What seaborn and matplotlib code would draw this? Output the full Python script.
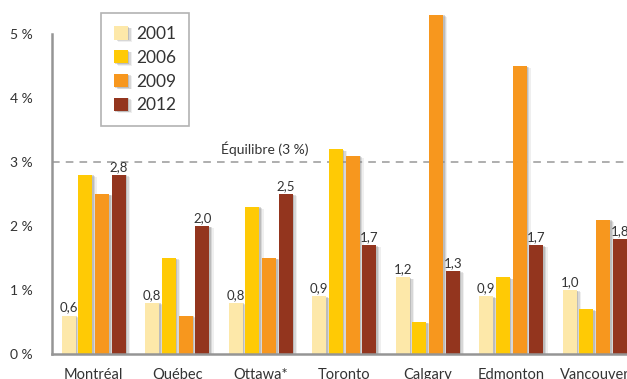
import matplotlib
matplotlib.use("Agg")
import matplotlib.pyplot as plt
import matplotlib.patheffects as pe
from matplotlib.ticker import FixedLocator
import pandas as pd
import seaborn as sns

# Vacancy rates (%) by metropolitan area and survey year
cities = ["Montréal", "Québec", "Ottawa*", "Toronto", "Calgary", "Edmonton", "Vancouver"]
years = ["2001", "2006", "2009", "2012"]
rate_2001 = [0.6, 0.8, 0.8, 0.9, 1.2, 0.9, 1.0]
rate_2006 = [2.8, 1.5, 2.3, 3.2, 0.5, 1.2, 0.7]
rate_2009 = [2.5, 0.6, 1.5, 3.1, 5.3, 4.5, 2.1]
rate_2012 = [2.8, 2.0, 2.5, 1.7, 1.3, 1.7, 1.8]
equilibrium = 3.0
y_ticks = [0, 1, 2, 3, 4, 5]
y_tick_labels = ["0 %", "1 %", "2 %", "3 %", "4 %", "5 %"]

colors = ["#FDE8A9", "#FFCA05", "#F7971E", "#93351E"]

series = [rate_2001, rate_2006, rate_2009, rate_2012]
df = pd.DataFrame({
    "ville": [c for _ in years for c in cities],
    "annee": [y for y in years for _ in cities],
    "taux": [v for s in series for v in s],
})

sns.set_style("white")
plt.rcParams["font.family"] = ["Lato", "DejaVu Sans"]
text_color = "#333333"
axis_color = "#959595"

W, H = 627, 379
fig = plt.figure(figsize=(W / 100, H / 100), dpi=100)
ax = fig.add_axes([52 / W, 25 / H, 584.5 / W, 352 / H])

sns.barplot(data=df, x="ville", y="taux", hue="annee", order=cities,
            hue_order=years, palette=colors, width=0.8, gap=0.15,
            saturation=1, ax=ax, legend=True)

# soft drop shadow built from a few faint offset copies
shadow = [pe.SimplePatchShadow(offset=(1, -0.5), shadow_rgbFace="#808080", alpha=0.30),
          pe.SimplePatchShadow(offset=(2, -1), shadow_rgbFace="#808080", alpha=0.22),
          pe.SimplePatchShadow(offset=(3, -1.5), shadow_rgbFace="#909090", alpha=0.14),
          pe.Normal()]
for p in ax.patches:
    p.set_edgecolor("none")
    p.set_path_effects(shadow)

# value labels on the 2001 and 2012 bars
for idx, vals in ((0, rate_2001), (3, rate_2012)):
    ax.bar_label(ax.containers[idx],
                 labels=[f"{v:.1f}".replace(".", ",") for v in vals],
                 padding=1.5, fontsize=9.5, color=text_color)

ax.set_xlim(-0.5, 6.5)
ax.set_ylim(0, 5.5)
ax.set_xlabel("")
ax.set_ylabel("")

# equilibrium reference line
ax.axhline(equilibrium, color="#999999", lw=1.1, ls=(0, (5, 4)), zorder=0.5)
ax.text(2.05, equilibrium + 0.1, "Équilibre (3 %)", ha="center", va="bottom",
        fontsize=10, color=text_color)

for side in ("top", "right"):
    ax.spines[side].set_visible(False)
ax.spines["left"].set_bounds(0, 5)
for side in ("left", "bottom"):
    ax.spines[side].set_color(axis_color)
    ax.spines[side].set_linewidth(1.8)

ax.set_yticks(y_ticks)
ax.set_yticklabels(y_tick_labels)
ax.tick_params(axis="y", direction="in", length=15, width=1.2, color=axis_color,
               labelsize=10, labelcolor=text_color, pad=14)
ax.tick_params(axis="x", length=0, labelsize=10.5, labelcolor=text_color, pad=10)
# group separators rising from the baseline
ax.xaxis.set_minor_locator(FixedLocator([0.5, 1.5, 2.5, 3.5, 4.5, 5.5]))
ax.tick_params(axis="x", which="minor", direction="in", length=7, width=1.2,
               color=axis_color)

leg = ax.legend(loc="upper left", bbox_to_anchor=(101 / W, 1 - 13 / H),
                bbox_transform=fig.transFigure, title=None, fontsize=12.5,
                handlelength=0.8, handleheight=0.8, handletextpad=0.45,
                labelspacing=0.45, borderpad=0.75, borderaxespad=0,
                fancybox=False, frameon=True)
leg.get_frame().set_edgecolor("#a0a0a0")
leg.get_frame().set_linewidth(1.2)
for t in leg.get_texts():
    t.set_color(text_color)
for h in leg.legend_handles:
    h.set_edgecolor("none")
    h.set_path_effects(shadow)

fig.savefig("out.png", dpi=100)
